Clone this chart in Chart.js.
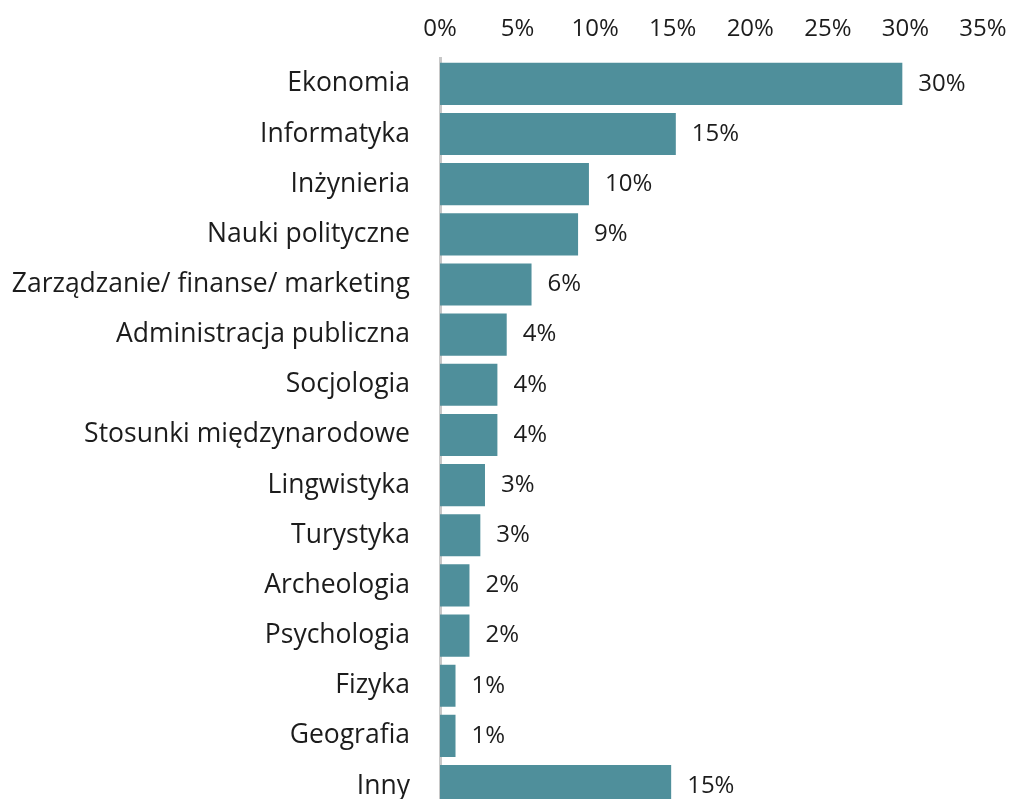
<!DOCTYPE html>
<html>
<head>
<meta charset="utf-8">
<script src="https://cdn.jsdelivr.net/npm/chart.js@4"></script>
<style>
    html, body { margin: 0; padding: 0; background: #fff; overflow: hidden; }
    canvas { display: block; }
</style>
</head>
<body>
<canvas id="chart" width="1011" height="857"></canvas>
<script>
const categories = [
    'Ekonomia', 'Informatyka', 'Inżynieria', 'Nauki polityczne',
    'Zarządzanie/ finanse/ marketing', 'Administracja publiczna', 'Socjologia',
    'Stosunki międzynarodowe', 'Lingwistyka', 'Turystyka', 'Archeologia',
    'Psychologia', 'Fizyka', 'Geografia', 'Inny'
];
const shares = [29.8, 15.2, 9.6, 8.9, 5.9, 4.3, 3.7, 3.7, 2.9, 2.6, 1.9, 1.9, 1.0, 1.0, 14.9];
const xTicks = [0, 5, 10, 15, 20, 25, 30, 35];

const FONT = '"Open Sans", "Noto Sans", sans-serif';
const INK = '#1c1c1c';

const valueLabels = {
    id: 'valueLabels',
    afterDatasetsDraw(chart) {
        const ctx = chart.ctx;
        const meta = chart.getDatasetMeta(0);
        ctx.save();
        ctx.font = '24px ' + FONT;
        ctx.fillStyle = INK;
        ctx.textBaseline = 'middle';
        ctx.textAlign = 'left';
        meta.data.forEach((bar, i) => {
            ctx.fillText(Math.round(shares[i]) + '%', bar.x + 16, bar.y);
        });
        ctx.restore();
    }
};

const ctx = document.getElementById('chart').getContext('2d');
new Chart(ctx, {
    type: 'bar',
    data: {
        labels: categories,
        datasets: [{
            data: shares,
            backgroundColor: '#4f8f9b',
            categoryPercentage: 0.84,
            barPercentage: 1
        }]
    },
    options: {
        indexAxis: 'y',
        responsive: false,
        animation: false,
        layout: { padding: { left: 0, right: 28, top: 0, bottom: 9 } },
        plugins: {
            legend: { display: false },
            tooltip: { enabled: false }
        },
        scales: {
            x: {
                position: 'top',
                min: 0,
                max: 35,
                afterBuildTicks(scale) {
                    scale.ticks = xTicks.map(v => ({ value: v }));
                },
                afterFit(scale) {
                    scale.paddingLeft = 0;
                    scale.paddingRight = 0;
                },
                grid: { display: false, drawTicks: false },
                border: { display: false },
                ticks: {
                    padding: 15,
                    color: INK,
                    font: { family: FONT, size: 24 },
                    callback: v => v + '%'
                }
            },
            y: {
                afterFit(scale) {
                    scale.width = 440;
                },
                grid: { display: false, drawTicks: false },
                border: { display: true, color: '#c8c8c8', width: 3 },
                ticks: {
                    padding: 30,
                    color: INK,
                    font: { family: FONT, size: 26.5 }
                }
            }
        }
    },
    plugins: [valueLabels]
});
</script>
</body>
</html>
